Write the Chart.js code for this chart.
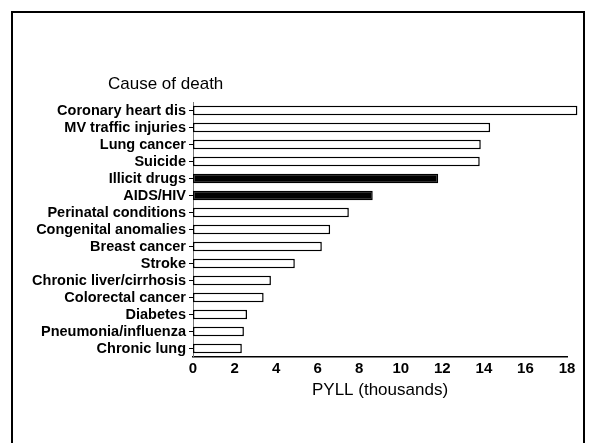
<!DOCTYPE html>
<html>
<head>
<meta charset="utf-8">
<script src="https://cdn.jsdelivr.net/npm/chart.js@4"></script>
<style>
    body { margin: 0; background: #fff; }
    #wrap { position: relative; width: 589px; height: 443px; }
    #frame {
        position: absolute; left: 11px; top: 11px; width: 570px; height: 440px;
        border: 2px solid #000; border-bottom: none;
    }
    canvas { position: absolute; left: 0; top: 0; }
</style>
</head>
<body>
<div id="wrap">
    <div id="frame"></div>
    <canvas id="pyllChart" width="589" height="443"></canvas>
</div>
<script>
const causes = [
    "Coronary heart dis", "MV traffic injuries", "Lung cancer", "Suicide",
    "Illicit drugs", "AIDS/HIV", "Perinatal conditions", "Congenital anomalies",
    "Breast cancer", "Stroke", "Chronic liver/cirrhosis", "Colorectal cancer",
    "Diabetes", "Pneumonia/influenza", "Chronic lung"
];
const pyll = [18.5, 14.3, 13.85, 13.8, 11.8, 8.65, 7.5, 6.6, 6.2, 4.9, 3.75, 3.4, 2.6, 2.45, 2.35];
const highlighted = ["Illicit drugs", "AIDS/HIV"];
const xTicks = [0, 2, 4, 6, 8, 10, 12, 14, 16, 18];

const fontFamily = "'Liberation Sans', Arial, sans-serif";

document.addEventListener("DOMContentLoaded", () => {
    const ctx = document.getElementById("pyllChart").getContext("2d");

    // "Cause of death" heading above the category labels
    const headingPlugin = {
        id: "heading",
        afterDraw(chart) {
            const c = chart.ctx;
            c.save();
            c.fillStyle = "#000";
            c.font = "17px " + fontFamily;
            c.textBaseline = "alphabetic";
            c.fillText("Cause of death", 108, 89);
            c.restore();
        }
    };

    new Chart(ctx, {
        type: "bar",
        data: {
            labels: causes,
            datasets: [{
                data: pyll,
                backgroundColor: causes.map(c => highlighted.includes(c) ? "#000" : "#fff"),
                borderColor: "#000",
                borderWidth: 1.5,
                borderSkipped: false,
                barPercentage: 0.55,
                categoryPercentage: 1,
                clip: false
            }]
        },
        options: {
            indexAxis: "y",
            responsive: false,
            animation: false,
            layout: { padding: { left: 0, right: 22, top: 102, bottom: 42 } },
            plugins: {
                legend: { display: false },
                tooltip: { enabled: false },
                title: { display: false }
            },
            scales: {
                x: {
                    min: 0,
                    max: 18,
                    afterBuildTicks: (scale) => { scale.ticks = xTicks.map(v => ({ value: v })); },
                    grid: { display: false, drawTicks: false },
                    border: { color: "#000", width: 1.5 },
                    ticks: {
                        color: "#000",
                        padding: 3,
                        maxRotation: 0,
                        font: { family: fontFamily, size: 15, weight: "bold" }
                    },
                    title: {
                        display: true,
                        text: "PYLL (thousands)",
                        color: "#000",
                        padding: { top: 0, bottom: 0 },
                        font: { family: fontFamily, size: 17 }
                    },
                    afterFit: (scale) => { scale.height = 44; }
                },
                y: {
                    grid: { display: true, drawOnChartArea: false, color: "#000", tickLength: 4, offset: false },
                    border: { color: "#777", width: 1 },
                    ticks: {
                        color: "#000",
                        padding: 3,
                        autoSkip: false,
                        font: { family: fontFamily, size: 14.5, weight: "bold" }
                    },
                    afterFit: (scale) => { scale.width = 193; }
                }
            }
        },
        plugins: [headingPlugin]
    });
});
</script>
</body>
</html>
